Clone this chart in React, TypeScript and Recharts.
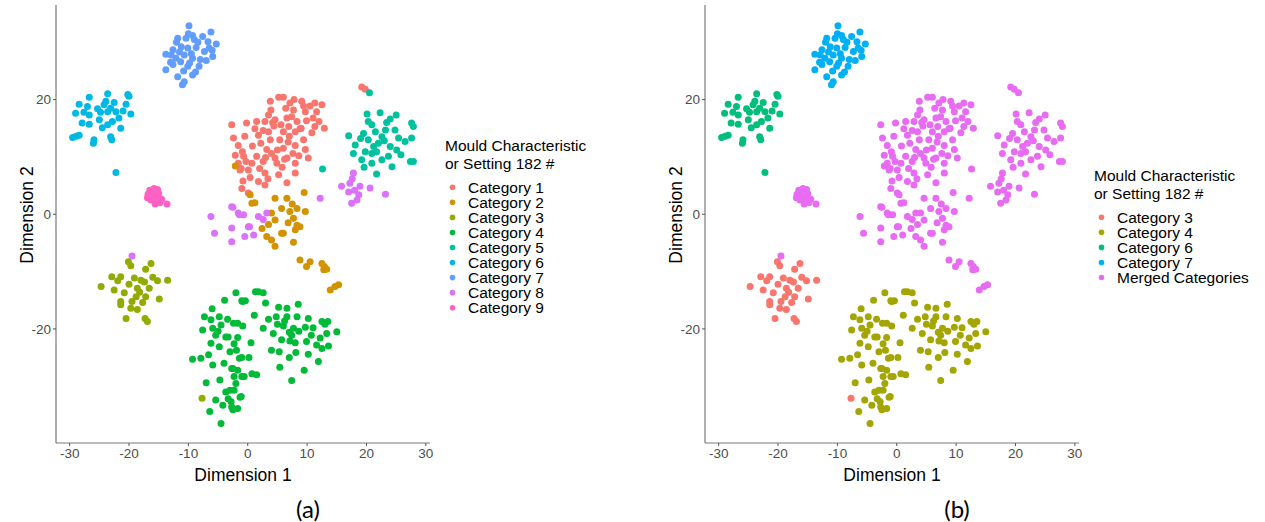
import React from "react";
import { ScatterChart, Scatter, XAxis, YAxis } from "recharts";

type Pt = [number, number];

const xTicks = [-30, -20, -10, 0, 10, 20, 30];
const yTicks = [-20, 0, 20];
const xDomain = [-32.3, 30.7];
const yDomain = [-39.9, 36.5];

const legendTitle = ["Mould Characteristic", "or Setting 182 #"];

const cat1: Pt[] = [
  [19.2, 22.2], [19.8, 21.8], [3.8, 19.7], [5.2, 20.4], [6.0, 20.4], [7.1, 19.4], [9.1, 19.7], [11.3, 19.4],
  [12.5, 19.1], [7.7, 18.2], [9.7, 17.9], [11.6, 17.9], [3.5, 17.3], [-2.7, 15.6], [-0.2, 15.9], [1.5, 16.2],
  [2.9, 16.2], [4.6, 16.5], [6.6, 16.8], [8.3, 16.2], [9.9, 16.3], [6.9, 15.3], [11.3, 15.3], [12.9, 15.0],
  [3.5, 14.4], [6.0, 14.4], [8.0, 14.4], [-2.4, 13.3], [-0.5, 13.6], [1.8, 13.8], [3.8, 13.0], [5.4, 13.0],
  [9.4, 13.0], [-1.6, 12.0], [3.2, 11.3], [6.0, 11.5], [8.0, 12.0], [9.7, 11.3], [-2.1, 10.3], [-0.7, 10.1],
  [1.5, 10.1], [4.6, 9.8], [6.6, 9.8], [10.2, 9.8], [-1.6, 8.9], [0.7, 8.9], [2.6, 9.2], [4.9, 8.9],
  [8.0, 8.9], [-1.3, 7.7], [0.1, 7.7], [2.9, 7.2], [5.2, 6.9], [8.0, 7.2], [1.8, 5.7], [2.9, 5.1],
  [6.6, 5.5], [-1.0, 4.5], [0.1, 3.7], [-0.9, 10.9], [-0.3, 9.2], [-1.1, 8.0], [7.0, 13.6], [4.4, 15.4],
  [10.8, 14.2], [5.0, 11.2], [2.2, 12.4], [7.6, 10.6], [3.9, 18.2], [10.5, 18.9], [8.8, 14.9], [0.8, 11.9],
  [6.4, 18.5], [12.0, 16.2], [4.2, 16.0], [7.4, 17.0], [5.6, 15.6], [2.6, 14.6], [9.0, 15.0], [1.2, 14.9],
  [6.8, 12.6], [4.0, 10.6], [8.6, 10.2], [2.0, 8.0], [5.8, 8.2], [3.4, 6.2], [0.4, 6.4], [-0.8, 5.8],
  [11.0, 16.8], [9.4, 18.9], [7.8, 20.0], [6.2, 9.6], [3.0, 9.9],
];

const cat2: Pt[] = [
  [-2.1, 8.4], [0.4, 3.4], [0.7, 1.9], [1.2, 2.0], [4.6, 2.8], [6.6, 2.8], [9.5, 3.8], [5.7, 1.0],
  [7.1, 0.5], [8.3, 1.0], [9.7, 0.5], [4.0, 0.2], [4.6, -1.0], [7.7, -0.7], [8.3, -1.9], [2.4, -2.5],
  [6.0, -3.3], [8.0, -2.7], [3.2, -3.9], [4.0, -4.5], [4.6, -5.6], [7.7, -4.9], [8.8, -2.2], [5.7, -3.3],
  [8.8, -8.0], [10.5, -8.3], [9.9, -9.1], [12.5, -8.6], [12.8, -9.7], [13.3, -9.6], [12.9, -9.1],
  [13.9, -13.2], [14.7, -12.6], [15.3, -12.3], [6.8, -1.5], [3.5, -1.8], [7.5, 1.8],
];

const cat3: Pt[] = [
  [-20.1, -8.3], [-19.7, -9.0], [-16.3, -8.6], [-17.2, -9.6], [-22.9, -10.9], [-21.4, -10.9], [-21.9, -11.6],
  [-19.1, -11.1], [-18.0, -11.5], [-17.4, -11.8], [-15.2, -11.6], [-13.5, -11.5], [-24.7, -12.6], [-22.5, -13.2],
  [-20.8, -13.7], [-18.6, -12.9], [-16.6, -12.9], [-18.8, -14.4], [-17.2, -14.4], [-14.9, -14.8], [-21.4, -15.2],
  [-19.5, -15.2], [-17.7, -15.4], [-21.4, -15.8], [-19.7, -16.4], [-18.6, -16.6], [-20.5, -18.2], [-17.3, -18.2],
  [-16.9, -18.7], [-20.0, -12.2], [-18.2, -13.6], [-16.0, -11.0], [-7.7, -32.1],
];

const cat4: Pt[] = [
  [-2.0, -13.7], [-3.9, -15.0], [-0.85, -15.2], [-7.3, -17.9], [-6.2, -18.4], [-4.8, -17.9], [-3.4, -18.3],
  [-1.7, -19.0], [-0.85, -19.5], [-7.6, -20.2], [-5.9, -19.9], [-4.5, -19.3], [-5.4, -21.1], [-3.7, -21.4],
  [-1.7, -21.5], [-6.2, -22.5], [-4.8, -23.1], [-2.3, -22.6], [0.55, -22.4], [-9.3, -25.3], [-7.9, -25.1],
  [-6.6, -24.5], [-5.9, -26.3], [-1.4, -25.1], [-2.5, -26.9], [-1.7, -27.2], [-2.3, -28.3], [0.7, -27.8],
  [-0.6, -28.3], [-7.0, -29.4], [-4.7, -28.9], [-3.7, -31.0], [-2.3, -30.7], [-1.1, -31.8], [-5.4, -32.4],
  [-4.2, -33.3], [-2.8, -32.7], [-2.5, -34.1], [-1.7, -33.9], [-6.4, -34.4], [-4.5, -36.5], [1.3, -13.5],
  [1.1, -17.6], [1.8, -13.5], [2.6, -13.7], [-1.0, -15.1], [-0.4, -15.1], [8.5, -15.7], [5.2, -16.2],
  [6.6, -16.4], [3.5, -18.3], [4.8, -17.9], [6.6, -17.9], [8.3, -17.9], [10.2, -18.2], [12.5, -18.7],
  [13.5, -18.7], [-2.4, -19.0], [2.6, -19.9], [6.0, -19.5], [7.7, -19.9], [9.7, -19.7], [13.0, -19.2],
  [4.3, -20.8], [7.4, -21.1], [10.7, -21.1], [13.3, -20.8], [15.0, -20.5], [-3.3, -21.4], [5.7, -21.9],
  [7.1, -22.1], [8.0, -22.4], [9.9, -22.2], [11.6, -22.8], [12.5, -23.4], [13.6, -23.0], [-1.9, -23.7],
  [4.0, -23.7], [5.3, -24.0], [8.1, -24.1], [10.2, -24.4], [7.0, -25.0], [11.9, -25.7], [-1.0, -25.0],
  [0.2, -25.0], [5.4, -26.7], [9.5, -27.2], [-2.7, -26.9], [-1.0, -28.3], [1.5, -28.0], [7.4, -29.0],
  [-3.0, -30.7], [-1.3, -31.9], [-2.7, -33.6], [6.2, -18.6], [7.0, -20.6], [5.0, -19.2], [8.6, -20.4],
  [11.0, -19.8], [12.2, -21.6], [-5.0, -20.4], [-3.0, -24.0], [-4.0, -26.0], [-2.0, -29.5], [-3.3, -32.2],
  [-6.0, -16.5], [3.0, -15.5],
];

const cat5: Pt[] = [
  [20.5, 21.2], [20.1, 17.5], [20.3, 16.2], [22.3, 17.7], [24.0, 16.6], [25.0, 17.3], [27.6, 15.9], [27.9, 15.3],
  [17.0, 13.7], [19.5, 14.1], [21.5, 14.4], [23.2, 14.7], [24.8, 14.7], [25.4, 13.3], [26.5, 12.7], [27.6, 13.3],
  [18.1, 12.1], [20.3, 13.0], [22.0, 12.4], [24.0, 11.8], [17.8, 10.6], [19.8, 10.9], [21.7, 10.9], [23.7, 10.1],
  [25.1, 11.2], [19.2, 9.5], [20.9, 8.9], [22.6, 9.5], [24.3, 8.3], [27.4, 9.2], [27.9, 9.2], [21.7, 7.0],
  [12.6, 7.9], [20.9, 15.6], [22.6, 13.5], [20.9, 10.6], [19.0, 13.2], [23.0, 12.8], [21.2, 11.8],
  [25.8, 10.4], [19.6, 8.2], [23.4, 16.0],
];

const cat6: Pt[] = [
  [-26.7, 20.4], [-23.6, 21.0], [-20.2, 20.9], [-20.0, 20.6], [-28.4, 19.2], [-23.9, 19.7], [-24.2, 19.1],
  [-25.3, 18.4], [-23.1, 18.5], [-20.5, 19.2], [-29.0, 17.6], [-27.6, 17.8], [-26.7, 17.3], [-25.0, 16.5],
  [-23.6, 17.9], [-22.2, 17.9], [-21.7, 16.8], [-19.7, 17.5], [-27.9, 15.9], [-26.7, 15.7], [-24.5, 15.1],
  [-23.6, 15.6], [-22.8, 16.2], [-21.4, 15.0], [-29.5, 13.4], [-28.4, 13.8], [-25.9, 13.0], [-26.0, 12.4],
  [-23.1, 13.5], [-22.9, 13.0], [-22.2, 7.3], [-24.8, 17.8], [-22.5, 19.5], [-27.0, 18.8], [-21.0, 18.0],
  [-28.9, 13.6],
];

const cat7: Pt[] = [
  [-9.9, 32.9], [-6.2, 31.8], [-9.3, 31.2], [-11.8, 30.7], [-7.6, 31.0], [-6.7, 30.1], [-5.3, 29.7], [-13.8, 27.9],
  [-12.6, 28.7], [-11.2, 29.2], [-10.1, 29.0], [-8.7, 29.1], [-7.3, 28.4], [-5.9, 27.5], [-12.1, 27.2], [-10.7, 27.8],
  [-9.3, 27.2], [-12.6, 26.1], [-13.8, 25.2], [-9.8, 26.4], [-8.2, 25.8], [-9.3, 24.3], [-11.8, 24.0], [-11.0, 22.6],
  [-10.7, 23.1], [-10.4, 30.7], [-8.4, 30.0], [-6.5, 29.0], [-12.9, 27.8], [-10.1, 25.8], [-11.5, 28.3], [-9.5, 28.0],
  [-8.0, 27.0], [-10.8, 25.0], [-7.0, 26.8], [-12.0, 30.0], [-9.0, 30.5], [-10.0, 31.5], [-8.8, 24.8], [-13.0, 26.5],
  [-11.3, 26.6], [-6.0, 28.6],
];

const cat8: Pt[] = [
  [-2.7, 1.3], [-1.6, 0.2], [-0.7, -0.1], [-2.7, -2.4], [-2.7, -4.8], [0.1, -2.2], [1.0, -3.6], [-0.5, -3.9],
  [1.8, -0.4], [3.2, 0.2], [12.2, 2.8], [15.8, 4.9], [17.2, 5.4], [17.8, 7.2], [18.9, 4.9], [17.0, 3.9],
  [18.7, 3.4], [17.5, 1.9], [18.4, 2.5], [20.6, 4.6], [23.2, 3.5], [-6.2, -0.4], [-2.5, 1.2], [-1.4, -0.1],
  [-5.6, -3.3], [0.3, -2.2], [-19.5, -7.3], [18.0, 4.2], [17.6, 6.2], [2.6, -0.9],
];

const cat9: Pt[] = [
  [-16.5, 4.2], [-15.8, 4.5], [-15.2, 4.3], [-16.8, 3.5], [-16.0, 3.2], [-15.0, 3.6], [-16.3, 2.5], [-15.5, 2.2],
  [-14.8, 2.0], [-16.9, 2.9], [-15.6, 1.8], [-14.5, 2.6], [-13.6, 1.8], [-16.2, 3.8], [-15.4, 3.0],
];

const namesA = ["Category 1", "Category 2", "Category 3", "Category 4", "Category 5", "Category 6", "Category 7", "Category 8", "Category 9"];
const colorsA = ["#F8766D", "#D39200", "#93AA00", "#00BA38", "#00C19F", "#00B9E3", "#619CFF", "#DB72FB", "#FF61C3"];
const groupsA: Pt[][] = [cat1, cat2, cat3, cat4, cat5, cat6, cat7, cat8, cat9];

const namesB = ["Category 3", "Category 4", "Category 6", "Category 7", "Merged Categories"];
const colorsB = ["#F8766D", "#A3A500", "#00BF7D", "#00B0F6", "#E76BF3"];
const groupsB: Pt[][] = [cat3, cat4, cat6, cat7, [...cat1, ...cat2, ...cat5, ...cat8, ...cat9]];

const FONT = "'Liberation Sans', Arial, sans-serif";

const makeDot = (color: string) => (p: any) => (
  <circle cx={p.cx} cy={p.cy} r={3.5} fill={color} stroke="none" />
);

type PanelProps = {
  left: number;
  names: string[];
  colors: string[];
  groups: Pt[][];
  tag: string;
  legendTop: number;
};

function Panel({ left, names, colors, groups, tag, legendTop }: PanelProps) {
  const tickStyle = { fontSize: 13.5, fill: "#4d4d4d", fontFamily: FONT };
  return (
    <div style={{ position: "absolute", left, top: 0, width: 640, height: 522 }}>
      <ScatterChart width={640} height={522} margin={{ top: 5, right: 210, bottom: 39, left: 0 }}>
        <XAxis
          type="number"
          dataKey="x"
          domain={xDomain}
          ticks={xTicks}
          allowDataOverflow
          height={40}
          tick={tickStyle}
          tickSize={3}
          tickLine={{ stroke: "#555" }}
          axisLine={{ stroke: "#7a7a7a", strokeWidth: 1.2 }}
        />
        <YAxis
          type="number"
          dataKey="y"
          domain={yDomain}
          ticks={yTicks}
          allowDataOverflow
          width={56}
          tick={tickStyle}
          tickSize={3}
          tickLine={{ stroke: "#555" }}
          axisLine={{ stroke: "#7a7a7a", strokeWidth: 1.2 }}
        />
        {groups.map((g, i) => (
          <Scatter
            key={names[i]}
            name={names[i]}
            data={g.map(([x, y]) => ({ x, y }))}
            fill={colors[i]}
            shape={makeDot(colors[i])}
            isAnimationActive={false}
          />
        ))}
      </ScatterChart>
      <svg
        width={640}
        height={522}
        style={{ position: "absolute", left: 0, top: 0, pointerEvents: "none" }}
        fontFamily={FONT}
      >
        <text x={243} y={475} textAnchor="middle" dominantBaseline="central" fontSize={17.5} fill="#000">
          Dimension 1
        </text>
        <text
          x={27}
          y={215}
          textAnchor="middle"
          dominantBaseline="central"
          fontSize={17.5}
          fill="#000"
          transform="rotate(-90 27 215)"
        >
          Dimension 2
        </text>
        <text x={308} y={508} textAnchor="middle" dominantBaseline="central" fontSize={24} fontFamily="Lato, 'Open Sans', sans-serif" fill="#000">
          {tag}
        </text>
        {legendTitle.map((t, i) => (
          <text key={t} x={445} y={legendTop + i * 18.3} dominantBaseline="central" fontSize={15.5} fill="#000">
            {t}
          </text>
        ))}
        {names.map((n, i) => {
          const cy = legendTop + 42.3 + i * 15.05;
          return (
            <g key={n}>
              <circle cx={452.5} cy={cy} r={2.8} fill={colors[i]} />
              <text x={468} y={cy} dominantBaseline="central" fontSize={15.5} fill="#000">
                {n}
              </text>
            </g>
          );
        })}
      </svg>
    </div>
  );
}

export default function App() {
  return (
    <div style={{ position: "absolute", left: 0, top: 0, width: 1265, height: 522, background: "#fff", overflow: "hidden" }}>
      <Panel left={0} names={namesA} colors={colorsA} groups={groupsA} tag="(a)" legendTop={145} />
      <Panel left={649} names={namesB} colors={colorsB} groups={groupsB} tag="(b)" legendTop={175} />
    </div>
  );
}
